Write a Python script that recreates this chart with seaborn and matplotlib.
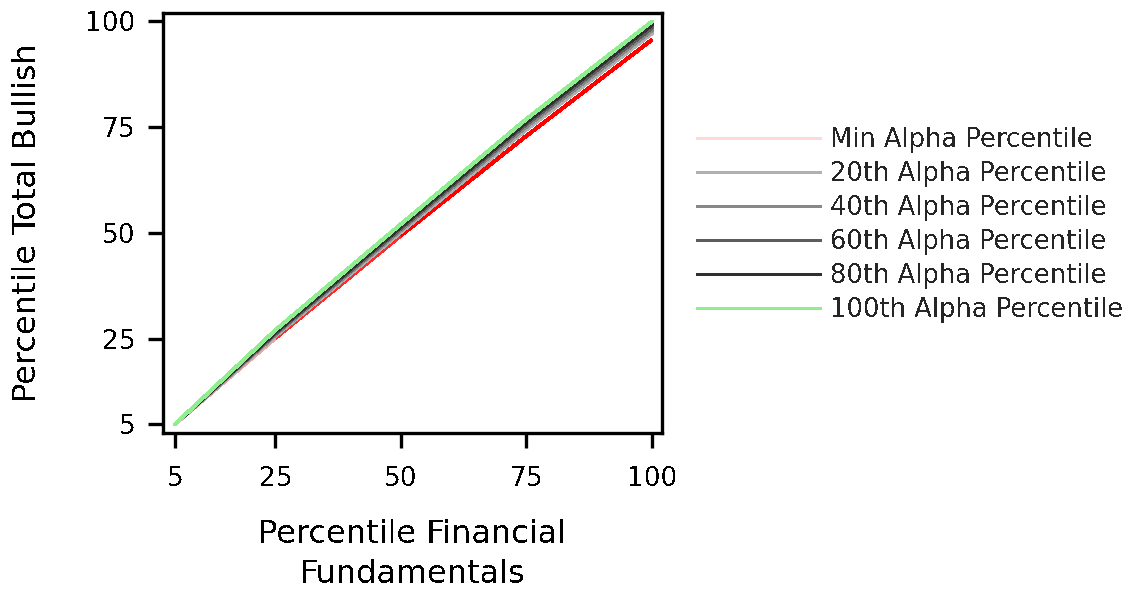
import numpy as np
import pandas as pd
import matplotlib
matplotlib.use("Agg")
import matplotlib.pyplot as plt
from matplotlib.collections import LineCollection
from matplotlib.lines import Line2D
import seaborn as sns

# Percentile of financial fundamentals (x) vs percentile of total bullish score (y)
fundamentals = [5, 25, 50, 75, 100]
series_names = [
    "Min Alpha Percentile",
    "20th Alpha Percentile",
    "40th Alpha Percentile",
    "60th Alpha Percentile",
    "80th Alpha Percentile",
    "100th Alpha Percentile",
]
min_alpha = [5, 25.3, 49.5, 73.0, 95.7]
alpha_20 = [5, 25.8, 50.3, 74.5, 97.2]
alpha_40 = [5, 26.1, 50.8, 75.2, 97.9]
alpha_60 = [5, 26.4, 51.2, 75.8, 98.5]
alpha_80 = [5, 26.7, 51.6, 76.3, 99.2]
alpha_100 = [5, 27.2, 52.2, 77.0, 100.0]
x_ticks = [5, 25, 50, 75, 100]
y_ticks = [5, 25, 50, 75, 100]

legend_colors = ["#ffd8d8", "#b0b0b0", "#888888", "#5c5c5c", "#303030", "#90ee90"]
min_segment_colors = ["#f4a4a4", "#ff2a2a", "#ff0000", "#ff0000"]

sns.set_style("ticks")
plt.rcParams["font.family"] = ["DejaVu Sans"]
plt.rcParams["lines.antialiased"] = False
plt.rcParams["text.antialiased"] = False

fig = plt.figure(figsize=(11.3, 5.94), dpi=100)
ax = fig.add_axes([163 / 1130, 1 - 433 / 594, 499 / 1130, 420 / 594])

values = [min_alpha, alpha_20, alpha_40, alpha_60, alpha_80, alpha_100]
df = pd.DataFrame(
    {
        "Fundamentals": np.tile(fundamentals, len(series_names)),
        "Bullish": np.concatenate(values),
        "Series": np.repeat(series_names, len(fundamentals)),
    }
)

lw = 2.1
# Lowest series drawn with a colour ramp from pale pink to red
pts = np.column_stack([fundamentals, min_alpha])
segs = np.stack([pts[:-1], pts[1:]], axis=1)
lc = LineCollection(segs, colors=min_segment_colors, linewidths=lw,
                    antialiaseds=False, capstyle="butt")
ax.add_collection(lc)

others = df[df["Series"] != series_names[0]]
sns.lineplot(
    data=others, x="Fundamentals", y="Bullish", hue="Series",
    hue_order=series_names[1:], palette=legend_colors[1:],
    linewidth=lw, legend=False, ax=ax, sort=False,
)

ax.set_xlim(2.6, 102)
ax.set_ylim(2.9, 102)
ax.set_xticks(x_ticks)
ax.set_yticks(y_ticks)
ax.tick_params(axis="both", direction="out", length=11, width=2.4,
               color="black", labelsize=19, labelcolor="black")
ax.tick_params(axis="x", pad=13)
ax.tick_params(axis="y", pad=9)
for sp in ax.spines.values():
    sp.set_visible(True)
    sp.set_linewidth(2.4)
    sp.set_color("black")

ax.set_xlabel("Percentile Financial\nFundamentals", fontsize=23,
              linespacing=1.38, color="black")
ax.set_ylabel("Percentile Total Bullish", fontsize=23, color="black")
ax.xaxis.set_label_coords(0.5, -0.205)
ax.yaxis.set_label_coords(-0.24, 0.5)

fs_leg = 18.5
handles = [Line2D([0], [0], color=c, lw=lw) for c in legend_colors]
fig.legend(
    handles, series_names, loc="upper left",
    bbox_to_anchor=(697 / 1130, 1 - 127 / 594), bbox_transform=fig.transFigure,
    frameon=False, fontsize=fs_leg, handlelength=4.8, handletextpad=0.39,
    labelspacing=0.31, borderpad=0, borderaxespad=0,
)

fig.savefig("out.png", dpi=100)
